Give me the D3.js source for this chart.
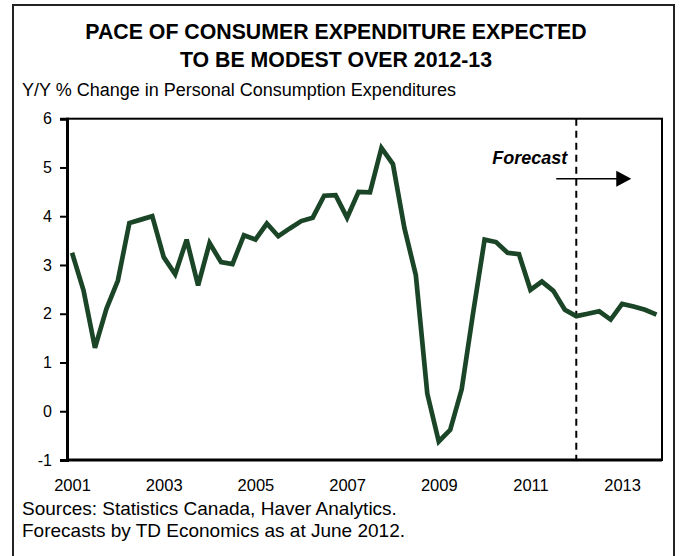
<!DOCTYPE html>
<html>
<head>
<meta charset="utf-8">
<script src="https://cdn.jsdelivr.net/npm/d3@7"></script>
<style>
  body { margin: 0; background: #fff; }
  svg text { font-family: Arial, 'Liberation Sans', sans-serif; fill: #000; }
</style>
</head>
<body>
<div id="chart"></div>
<script>
// Y/Y % change in personal consumption expenditures, 2001Q1 - 2013Q4
const startYear = 2001;
const pceGrowth = [
  3.25, 2.48, 1.30, 2.10,   // 2001
  2.68, 3.86, 3.93, 4.00,   // 2002
  3.16, 2.81, 3.52, 2.58,   // 2003
  3.45, 3.06, 3.02, 3.61,   // 2004
  3.52, 3.85, 3.59, 3.75,   // 2005
  3.90, 3.97, 4.42, 4.43,   // 2006
  3.97, 4.50, 4.49, 5.40,   // 2007
  5.07, 3.76, 2.79, 0.36,   // 2008
  -0.62, -0.38, 0.45, 2.02, // 2009
  3.52, 3.47, 3.25, 3.22,   // 2010
  2.49, 2.66, 2.47, 2.08,   // 2011
  1.95, 2.00, 2.05, 1.88,   // 2012 (forecast)
  2.20, 2.15, 2.08, 1.98    // 2013 (forecast)
];
const quarters = pceGrowth.map((d, i) => (startYear + Math.floor(i / 4)) + 'Q' + (i % 4 + 1));
const yearTicks = ['2001', '2003', '2005', '2007', '2009', '2011', '2013'];
const yTicks = [-1, 0, 1, 2, 3, 4, 5, 6];
const forecastStart = '2012Q1';

const titleLines = ['PACE OF CONSUMER EXPENDITURE EXPECTED', 'TO BE MODEST OVER 2012-13'];
const subtitle = 'Y/Y % Change in Personal Consumption Expenditures';
const notes = ['Sources: Statistics Canada, Haver Analytics.', 'Forecasts by TD Economics as at June 2012.'];

class Chart {

  constructor(containerId, totalWidth, totalHeight) {
    this.totalWidth = totalWidth;
    this.totalHeight = totalHeight;
    this.plot = {left: 67, right: 662, top: 118.7, bottom: 460};
    this.lineColor = '#1b4527';
    this.container = d3.select('#' + containerId);
  }

  render() {
    this.svg = this.container.append('svg')
      .attr('width', this.totalWidth)
      .attr('height', this.totalHeight);

    // quarter index -> pixel
    this.x = d3.scaleLinear().domain([-0.44, pceGrowth.length - 0.52]).range([this.plot.left, this.plot.right]);
    this.y = d3.scaleLinear().domain([-1, 6]).range([this.plot.bottom, this.plot.top]);

    this.drawFrame();
    this.drawTexts();
    this.drawAxes();
    this.drawForecast();
    this.drawLine();
  }

  drawFrame() {
    // outer box, bottom edge runs off the picture
    this.svg.append('rect')
      .attr('x', 13).attr('y', 5)
      .attr('width', 661).attr('height', 560)
      .style('fill', 'none')
      .style('stroke', '#222')
      .style('stroke-width', 2);

    this.svg.append('rect')
      .attr('class', 'plot-frame')
      .attr('x', this.plot.left).attr('y', this.plot.top)
      .attr('width', this.plot.right - this.plot.left)
      .attr('height', this.plot.bottom - this.plot.top)
      .style('fill', 'none')
      .style('stroke', '#000')
      .style('stroke-width', 2);
  }

  drawTexts() {
    this.svg.selectAll('text.title')
      .data(titleLines)
      .enter()
      .append('text')
      .attr('class', 'title')
      .attr('x', 336)
      .attr('y', (d, i) => 39 + i * 27.5)
      .attr('text-anchor', 'middle')
      .style('font-size', '21.3px')
      .style('font-weight', 'bold')
      .text(d => d);

    this.svg.append('text')
      .attr('x', 22)
      .attr('y', 96)
      .style('font-size', '18px')
      .text(subtitle);

    this.svg.selectAll('text.note')
      .data(notes)
      .enter()
      .append('text')
      .attr('class', 'note')
      .attr('x', 22)
      .attr('y', (d, i) => 515 + i * 21.5)
      .style('font-size', '19px')
      .text(d => d);
  }

  drawAxes() {
    let yAxis = d3.axisLeft(this.y)
      .tickValues(yTicks)
      .tickFormat(d => String(d))
      .tickSize(7)
      .tickPadding(8);
    let gy = this.svg.append('g')
      .attr('class', 'axis axis--y')
      .attr('transform', 'translate(' + [this.plot.left, 0] + ')')
      .call(yAxis);
    gy.select('.domain').style('stroke-width', 3);
    gy.selectAll('.tick line').style('stroke-width', 2);
    gy.selectAll('.tick text').style('font-size', '16px').style('font-family', 'Arial, "Liberation Sans", sans-serif');

    let xAxis = d3.axisBottom(this.x)
      .tickValues(yearTicks.map(yr => quarters.indexOf(yr + 'Q1')))
      .tickFormat(i => quarters[i].slice(0, 4))
      .tickSize(0)
      .tickPadding(19);
    let gx = this.svg.append('g')
      .attr('class', 'axis axis--x')
      .attr('transform', 'translate(' + [0, this.plot.bottom] + ')')
      .call(xAxis);
    gx.select('.domain').attr('d', 'M' + this.plot.left + ',0H' + this.plot.right).style('stroke-width', 3);
    gx.selectAll('.tick text').style('font-size', '16.5px').style('font-family', 'Arial, "Liberation Sans", sans-serif');
  }

  drawForecast() {
    let fx = this.x(quarters.indexOf(forecastStart));
    this.svg.append('line')
      .attr('x1', fx).attr('x2', fx)
      .attr('y1', this.plot.top).attr('y2', this.plot.bottom)
      .style('stroke', '#000')
      .style('stroke-width', 2)
      .style('stroke-dasharray', '7,5');

    this.svg.append('text')
      .attr('x', fx - 9)
      .attr('y', 164)
      .attr('text-anchor', 'end')
      .style('font-size', '18px')
      .style('font-weight', 'bold')
      .style('font-style', 'italic')
      .text('Forecast');

    let ay = 178.7;
    this.svg.append('line')
      .attr('x1', fx - 20).attr('x2', fx + 42)
      .attr('y1', ay).attr('y2', ay)
      .style('stroke', '#000')
      .style('stroke-width', 1.5);
    this.svg.append('path')
      .attr('d', 'M' + [fx + 40, ay - 8] + 'L' + [fx + 55, ay] + 'L' + [fx + 40, ay + 8] + 'Z')
      .style('fill', '#000');
  }

  drawLine() {
    let line = d3.line()
      .x((d, i) => this.x(i))
      .y(d => this.y(d));

    this.svg.append('path')
      .datum(pceGrowth)
      .attr('class', 'pce-line')
      .attr('d', line)
      .style('fill', 'none')
      .style('stroke', this.lineColor)
      .style('stroke-width', 4.7)
      .style('stroke-linejoin', 'miter')
      .style('stroke-miterlimit', 3);
  }
}

let chart = new Chart('chart', 681, 556);
chart.render();
</script>
</body>
</html>
